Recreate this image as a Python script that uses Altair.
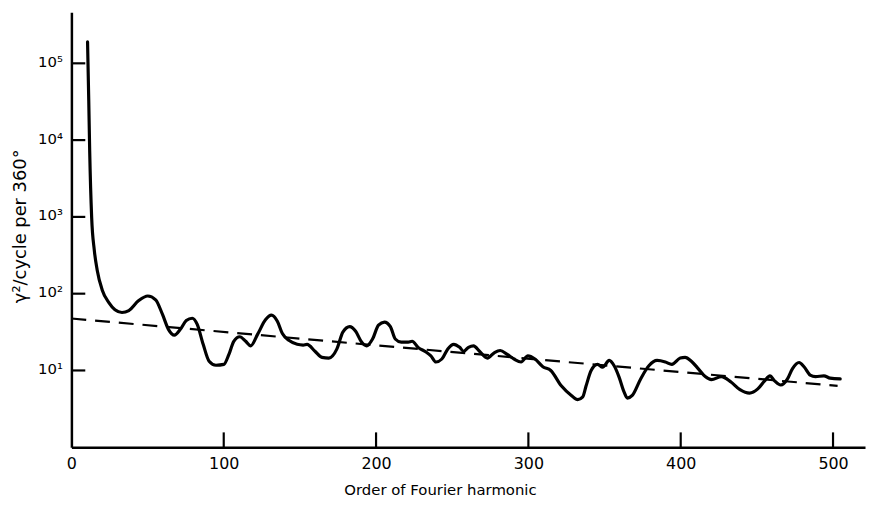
import altair as alt
import pandas as pd

# Spectrum curve (order of Fourier harmonic, gamma^2 per cycle per 360 deg)
harmonic = [10.6, 11.4, 12.0, 13.3, 15.0, 16.9, 20.2, 24.7, 28.6, 33.2, 37.7, 44.2, 50.1, 55.3,
            59.8, 63.7, 67.6, 71.5, 75.4, 79.3, 82.6, 86.5, 90.4, 94.9, 100.1, 103.4, 106.6,
            110.5, 114.4, 117.7, 122.2, 127.4, 131.3, 135.2, 138.5, 143.0, 148.2, 152.1, 154.7,
            159.9, 164.5, 169.0, 174.3, 178.2, 182.7, 186.6, 190.5, 193.8, 197.7, 201.6, 205.5,
            209.4, 212.6, 216.5, 221.1, 223.7, 227.6, 232.8, 236.0, 239.3, 243.2, 247.1, 251.0,
            254.9, 257.5, 260.7, 264.0, 267.9, 273.1, 277.6, 281.5, 286.1, 290.6, 295.2, 299.7,
            304.3, 309.5, 314.7, 321.6, 328.2, 332.4, 335.7, 337.9, 341.2, 345.4, 348.7, 353.1,
            356.3, 359.6, 362.8, 365.0, 368.2, 373.7, 379.1, 384.5, 389.9, 394.2, 399.7, 402.9,
            407.0, 411.6, 416.1, 420.2, 426.7, 433.0, 438.9, 445.2, 450.6, 455.1, 458.6, 461.6,
            465.7, 470.1, 473.3, 477.7, 481.1, 485.0, 488.5, 494.0, 498.1, 504.7]
power = [190000, 31600, 7240, 977, 372, 204, 112, 75.9, 61.7, 56.9, 60.3, 81.3, 93.3, 83.2,
         53.7, 34.3, 28.8, 34.3, 44.7, 47.9, 39.8, 21.9, 13.2, 11.7, 12.0, 16.2, 24.0,
         27.5, 24.0, 20.9, 29.5, 45.7, 52.5, 43.7, 30.2, 24.5, 21.9, 21.4, 21.9,
         17.8, 14.8, 14.5, 19.1, 31.6, 37.2, 32.4, 23.4, 20.9, 25.7, 38.9, 42.7,
         37.2, 25.7, 23.4, 23.4, 24.0, 20.0, 17.4, 15.5, 12.9, 14.1, 19.1, 21.9,
         20.0, 17.8, 20.0, 20.9, 17.8, 14.5, 17.0, 18.2, 16.2, 14.1, 12.9, 15.5,
         14.1, 11.2, 10.0, 6.31, 4.73, 4.17, 4.52, 6.31, 10.0, 12.0, 11.0, 13.5,
         11.5, 8.13, 5.25, 4.37, 4.73, 7.76, 11.5, 13.5, 12.9, 12.0, 14.5, 14.8,
         13.2, 10.5, 8.32, 7.59, 8.32, 7.08, 5.62, 5.07, 5.75, 7.33, 8.51, 7.33,
         6.46, 7.76, 10.5, 12.7, 11.1, 8.71, 8.32, 8.51, 7.94, 7.76]

# Dashed trend line
trend_harmonic = [0, 503]
trend_power = [47.5, 6.3]

# Axis ticks and labels
x_tick_values = [0, 100, 200, 300, 400, 500]
x_inner_ticks = [100, 200, 300, 400, 500]
y_tick_values = [10, 100, 1000, 10000, 100000]
y_tick_labels = ["10¹", "10²", "10³", "10⁴", "10⁵"]

curve = pd.DataFrame({"h": harmonic, "p": power})
trend = pd.DataFrame({"h": trend_harmonic, "p": trend_power})
xt = pd.DataFrame({"v": x_inner_ticks})
yt = pd.DataFrame({"v": y_tick_values})

W, H = 801, 439
FONT = "DejaVu Sans"

xscale = alt.Scale(domain=[0, 521], nice=False, zero=False)
yscale = alt.Scale(type="log", domain=[1, 462000], nice=False)

label_expr = " : ".join(
    f"datum.value == {v} ? '{l}'" for v, l in zip(y_tick_values, y_tick_labels)
) + " : ''"

x_axis = alt.Axis(values=x_tick_values, title="Order of Fourier harmonic",
                  grid=False, ticks=False, tickSize=0, domainColor="black",
                  domainWidth=2.5, labelFont=FONT, labelFontSize=16,
                  labelColor="black", labelPadding=8, labelFlush=False,
                  titleFont=FONT, titleFontSize=15, titleFontWeight="normal",
                  titleColor="black", titleX=372, titleY=43,
                  titleBaseline="middle")
y_axis = alt.Axis(values=y_tick_values, labelExpr=label_expr,
                  title="γ²/cycle per 360°", grid=False, ticks=False, tickSize=0,
                  domainColor="black", domainWidth=2.5, labelFont=FONT,
                  labelFontSize=15, labelColor="black", labelPadding=9,
                  labelOffset=-2, titleFont=FONT, titleFontSize=18,
                  titleFontWeight="normal", titleColor="black",
                  titleX=-51, titleY=H / 2 - 4, titleBaseline="middle",
                  titleAngle=270)

line = alt.Chart(curve).mark_line(
    color="black", strokeWidth=3.2, interpolate="monotone", strokeJoin="round", strokeCap="round"
).encode(
    x=alt.X("h:Q", scale=xscale, axis=x_axis),
    y=alt.Y("p:Q", scale=yscale, axis=y_axis),
)

dashed = alt.Chart(trend).mark_line(
    color="black", strokeWidth=2.2, strokeDash=[15, 9]
).encode(
    x=alt.X("h:Q", scale=xscale, axis=x_axis),
    y=alt.Y("p:Q", scale=yscale, axis=y_axis),
)

yticks = alt.Chart(yt).mark_rule(color="black", strokeWidth=2.2).encode(
    y=alt.Y("v:Q", scale=yscale, axis=y_axis),
    x=alt.value(0),
    x2=alt.value(14),
)

xticks = alt.Chart(xt).mark_rule(color="black", strokeWidth=2.2).encode(
    x=alt.X("v:Q", scale=xscale, axis=x_axis),
    y=alt.value(H - 15),
    y2=alt.value(H),
)

chart = alt.layer(line, dashed, yticks, xticks).properties(
    width=W,
    height=H,
    padding={"left": 64, "top": 2, "right": 2, "bottom": 60},
    autosize=alt.AutoSizeParams(type="none"),
    background="white",
).configure_view(stroke=None)

chart.save("out.html", embed_options={"renderer": "svg", "actions": False})
